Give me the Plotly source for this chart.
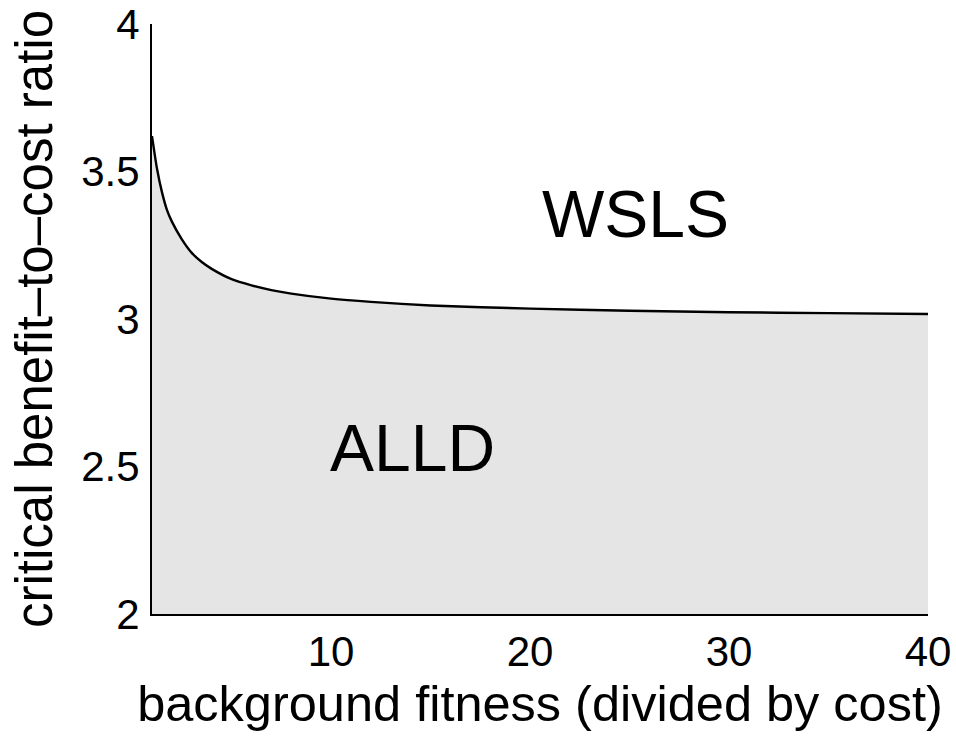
import plotly.graph_objects as go

# background fitness (divided by cost)
fitness = [1, 1.25, 1.5, 1.75, 2, 2.5, 3, 3.5, 4, 5, 6, 7, 8, 10, 12, 15, 20, 25, 30, 35, 40]
# critical benefit-to-cost ratio
critical_ratio = [3.62, 3.51, 3.43, 3.37, 3.33, 3.27, 3.224, 3.193, 3.17, 3.135, 3.114, 3.098, 3.086,
                  3.069, 3.058, 3.046, 3.035, 3.028, 3.023, 3.020, 3.017]

x_ticks = [10, 20, 30, 40]
y_ticks = [2, 2.5, 3, 3.5, 4]
y_tick_labels = ["2", "2.5", "3", "3.5", "4"]

region_labels = ["WSLS", "ALLD"]
region_x = [25.3, 14.1]
region_y = [3.335, 2.54]

FONT = "Liberation Sans, Arial, sans-serif"

fig = go.Figure()
fig.add_trace(go.Scatter(
    x=fitness, y=critical_ratio, mode="lines",
    line=dict(color="black", width=2.4, shape="spline", smoothing=0.6),
    fill="tozeroy", fillcolor="#e5e5e5",
    hoverinfo="x+y", showlegend=False,
))
fig.add_trace(go.Scatter(
    x=region_x, y=region_y, mode="text", text=region_labels,
    textfont=dict(family=FONT, size=66, color="black"),
    textposition="middle center", showlegend=False, hoverinfo="skip",
))

fig.update_layout(
    width=956, height=737,
    margin=dict(l=152, r=28, t=24, b=123),
    paper_bgcolor="white", plot_bgcolor="rgba(0,0,0,0)",
    font=dict(family=FONT, color="black"),
)
fig.update_xaxes(
    range=[1, 40], tickvals=x_ticks, ticktext=[str(v) for v in x_ticks],
    showgrid=False, zeroline=False,
    showline=True, linecolor="black", linewidth=2,
    ticks="inside", ticklen=6, tickwidth=1.5, tickcolor="black",
    tickfont=dict(size=42, family=FONT),
    ticklabeloverflow="allow",
    layer="below traces",
    title=dict(text="background fitness (divided by cost)", font=dict(size=50.5, family=FONT), standoff=0),
    automargin=False,
)
fig.update_yaxes(
    range=[2, 4], tickvals=y_ticks, ticktext=y_tick_labels,
    showgrid=False, zeroline=False,
    showline=True, linecolor="black", linewidth=2,
    ticks="inside", ticklen=6, tickwidth=1.5, tickcolor="black",
    tickfont=dict(size=42, family=FONT),
    ticklabelstandoff=2,
    ticklabeloverflow="allow",
    layer="below traces",
    title=dict(text="critical benefit–to–cost ratio", font=dict(size=51, family=FONT), standoff=12),
    automargin=False,
)

fig.write_html(
    "out.html",
    config={"displayModeBar": False},
    post_script="document.body.style.margin='0';document.body.style.overflow='hidden';",
)
